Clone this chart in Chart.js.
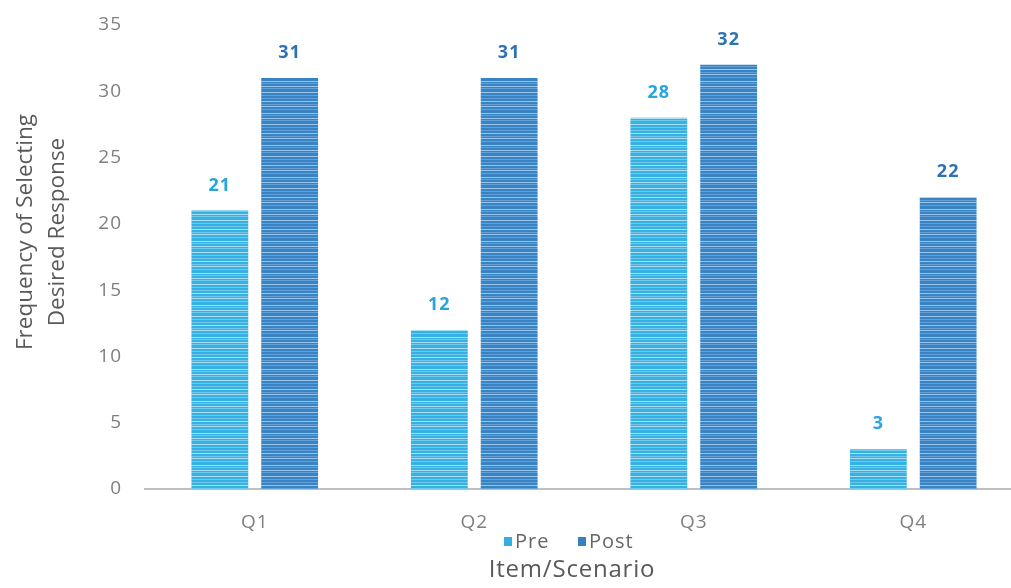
<!DOCTYPE html>
<html>
<head>
<meta charset="utf-8">
<script src="https://cdn.jsdelivr.net/npm/chart.js@4/dist/chart.umd.min.js"></script>
<style>
  html, body { margin: 0; padding: 0; background: #ffffff; overflow: hidden; width: 1011px; height: 588px; }
  #wrap { position: absolute; left: 0; top: 0; width: 1030px; height: 588px; }
</style>
</head>
<body>
<div id="wrap"><canvas id="chart" width="1030" height="588"></canvas></div>
<script>
// Survey items and counts of respondents choosing the desired response
const categories = ['Q1', 'Q2', 'Q3', 'Q4'];
const preValues = [21, 12, 28, 3];
const postValues = [31, 31, 32, 22];
const seriesNames = ['Pre', 'Post'];
const yTicks = [0, 5, 10, 15, 20, 25, 30, 35];

const FONT = '"Open Sans", "DejaVu Sans", sans-serif';

// Horizontally striped fill: a base colour with thin lighter lines
function stripedFill(base, mid, light) {
  const rows = [0,0,1,0,0,2,0,0,1,0,2,0,0,1,0,0,0,2,0,1,0,0,2,0,1,0,0,0,2,0,0,1];
  const c = document.createElement('canvas');
  c.width = 4; c.height = rows.length;
  const g = c.getContext('2d');
  rows.forEach((r, i) => {
    g.fillStyle = r === 0 ? base : (r === 1 ? mid : light);
    g.fillRect(0, i, 4, 1);
  });
  return g.createPattern(c, 'repeat');
}

const preFill = stripedFill('#37b0e2', '#6fc8ed', '#a8dff5');
const postFill = stripedFill('#3783c4', '#62a0d7', '#9ac5ea');
const labelColors = ['#29a5dc', '#2e72b3'];
const swatchColors = ['#35ade0', '#3581c3'];

// Slightly open letter spacing for all text the chart draws
const spacing = {
  id: 'spacing',
  beforeDraw(chart) { chart.ctx.letterSpacing = '1px'; }
};

// Value labels above each bar
const valueLabels = {
  id: 'valueLabels',
  afterDatasetsDraw(chart) {
    const ctx = chart.ctx;
    ctx.save();
    ctx.letterSpacing = '1px';
    ctx.font = 'bold 18px ' + FONT;
    ctx.textAlign = 'center';
    ctx.textBaseline = 'middle';
    chart.data.datasets.forEach((ds, di) => {
      const meta = chart.getDatasetMeta(di);
      ctx.fillStyle = labelColors[di];
      meta.data.forEach((bar, i) => {
        ctx.fillText(String(ds.data[i]), bar.x, bar.y - 25);
      });
    });
    ctx.restore();
  }
};

// Legend row and axis titles
const annotations = {
  id: 'annotations',
  afterDraw(chart) {
    const ctx = chart.ctx;
    ctx.save();
    // legend
    ctx.letterSpacing = '1px';
    ctx.font = '20px ' + FONT;
    ctx.textBaseline = 'middle';
    ctx.textAlign = 'left';
    const legendX = [504, 578];
    const y = 542;
    chart.data.datasets.forEach((ds, di) => {
      ctx.fillStyle = swatchColors[di];
      ctx.fillRect(legendX[di], y - 5, 8, 9);
      ctx.fillStyle = '#666666';
      ctx.fillText(ds.label, legendX[di] + 11, y);
    });
    // x title
    ctx.letterSpacing = '0.8px';
    ctx.font = '24px ' + FONT;
    ctx.fillStyle = '#595959';
    ctx.textAlign = 'center';
    ctx.fillText('Item/Scenario', 572, 570);
    // y title (two lines, rotated)
    ctx.letterSpacing = '0px';
    ctx.font = '22.5px ' + FONT;
    ctx.translate(0, 232);
    ctx.rotate(-Math.PI / 2);
    ctx.fillText('Frequency of Selecting', 0, 26);
    ctx.fillText('Desired Response', 0, 58);
    ctx.restore();
  }
};

new Chart(document.getElementById('chart'), {
  type: 'bar',
  data: {
    labels: categories,
    datasets: [
      { label: seriesNames[0], data: preValues, backgroundColor: preFill, borderWidth: 0 },
      { label: seriesNames[1], data: postValues, backgroundColor: postFill, borderWidth: 0 }
    ]
  },
  options: {
    responsive: false,
    animation: false,
    devicePixelRatio: 1,
    categoryPercentage: 0.636,
    barPercentage: 0.814,
    layout: { autoPadding: false, padding: { top: 25, right: 7, bottom: 0, left: 0 } },
    plugins: {
      legend: { display: false },
      tooltip: { enabled: false }
    },
    scales: {
      x: {
        grid: { display: false, drawTicks: false },
        border: { display: true, color: '#bfbfbf', width: 2 },
        ticks: { color: '#7f7f7f', font: { family: FONT, size: 19 }, padding: 22 },
        afterFit(scale) { scale.height = 99; }
      },
      y: {
        min: 0,
        max: 35,
        afterBuildTicks(scale) { scale.ticks = yTicks.map(v => ({ value: v })); },
        grid: { display: false, drawTicks: false },
        border: { display: false },
        ticks: { color: '#7f7f7f', font: { family: FONT, size: 19 }, padding: 23 },
        afterFit(scale) {
          scale.width = 145;
          scale.paddingTop = 0;
          scale.paddingBottom = 0;
        }
      }
    }
  },
  plugins: [spacing, valueLabels, annotations]
});
</script>
</body>
</html>
